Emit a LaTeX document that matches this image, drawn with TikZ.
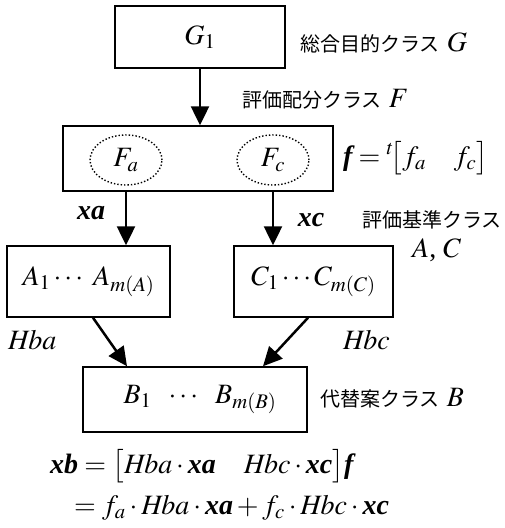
\documentclass[tikz,border=0pt]{standalone}
\usepackage{mathptmx}
\usepackage[no-math]{fontspec}
\setmainfont{Liberation Serif}
\newfontfamily\jp{Noto Sans CJK JP}
\usetikzlibrary{arrows.meta,shapes.geometric}
\newcommand{\bx}[1]{\mbox{\bfseries\itshape #1}}
\newcommand{\J}[1]{{\jp\fontsize{20}{23}\selectfont #1}}
\begin{document}
\begin{tikzpicture}[x=1pt,y=-1pt,
  box/.style={draw, line width=1.5pt, inner sep=0pt, font=\fontsize{28}{31}\selectfont},
  arr/.style={line width=2.5pt, -{Triangle[length=19pt,width=18pt]}},
  ell/.style={draw, ellipse, dotted, line width=1.4pt, minimum width=72pt, minimum height=50pt, inner sep=0pt, font=\fontsize{28}{31}\selectfont},
  lbl/.style={inner sep=0pt, font=\fontsize{28}{31}\selectfont}]
\useasboundingbox (0,0) rectangle (505,528);
% boxes
\node[box, minimum width=170pt, minimum height=62pt] (G) at (200,37) {$G_1$};
\node[box, minimum width=270pt, minimum height=65pt] (F) at (198,158.5) {};
\node[ell] (Fa) at (126,160) {$F_a$};
\node[ell] (Fc) at (273,160) {$F_c$};
\node[box, minimum width=163pt, minimum height=71pt] (A) at (88.5,281.5) {$A_1\cdots\ A_{m(A)}$};
\node[box, minimum width=159pt, minimum height=71pt] (C) at (313.5,281.5) {$C_1\cdots C_{m(C)}$};
\node[box, minimum width=224pt, minimum height=65pt] (B) at (195,399.5) {\hspace{10pt}$B_1\ \ \cdots\ \ B_{m(B)}$};
% arrows
\draw[arr] (G.south) -- (G.south |- F.north);
\draw[arr] (F.south -| Fa) -- (A.north -| Fa);
\draw[arr] (F.south -| Fc) -- (C.north -| Fc);
\draw[arr] ([xshift=4.5pt]A.south) -- ([xshift=-68pt]B.north);
\draw[arr] ([xshift=-5.5pt]C.south) -- ([xshift=68pt]B.north);
% labels
\node[lbl, anchor=west] (lG) at (300,43) {\J{総合目的クラス}\ $G$};
\node[lbl, anchor=west] (lF) at (242,99) {\J{評価配分クラス}\ $F$};
\node[lbl, anchor=west] (lf) at (343,158) {$\bx{f}={}^{t}\!\big[f_a\quad f_c\big]$};
\node[lbl] (xa) at (91,213) {\bx{xa}};
\node[lbl] (xc) at (311,220) {\bx{xc}};
\node[lbl, anchor=west] (lAC1) at (362,220) {\J{評価基準クラス}};
\node[lbl, anchor=west] (lAC2) at (412,250) {$A$, $C$};
\node[lbl, anchor=west] (hba) at (8,340) {$\mathit{Hba}$};
\node[lbl, anchor=west] (hbc) at (343,340) {$\mathit{Hbc}$};
\node[lbl, anchor=west] (lB) at (320,398) {\J{代替案クラス}\ $B$};
\node[lbl, anchor=west] (eq1) at (50,466) {$\bx{xb}=\big[\mathit{Hba}\cdot\bx{xa}\quad \mathit{Hbc}\cdot\bx{xc}\big]\bx{f}$};
\node[lbl, anchor=west] (eq2) at (74,508) {$=f_a\cdot\mathit{Hba}\cdot\bx{xa}+f_c\cdot\mathit{Hbc}\cdot\bx{xc}$};
\end{tikzpicture}
\end{document}
